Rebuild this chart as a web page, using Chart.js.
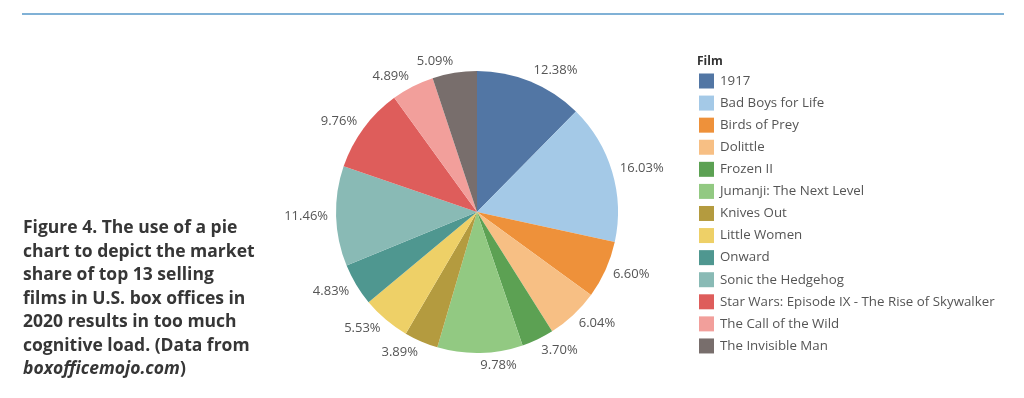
<!DOCTYPE html>
<html>
<head>
<meta charset="utf-8">
<title>Top 13 films of 2020 - box office share</title>
<script src="https://cdn.jsdelivr.net/npm/chart.js"></script>
<style>
    body { margin: 0; background: #fff; }
    #wrap { position: relative; width: 1024px; height: 398px; overflow: hidden; }
    #rule { position: absolute; left: 22px; top: 13px; width: 982px; height: 2px; background: #80b1d6; }
    #filmChart { position: absolute; left: 0; top: 0; }
    #caption {
        position: absolute; left: 23px; top: 215px; width: 270px;
        font: bold 17.5px/23.5px "Open Sans", sans-serif; color: #363636;
    }
</style>
</head>
<body>
<div id="wrap">
    <div id="rule"></div>
    <canvas id="filmChart" width="1024" height="398"></canvas>
    <div id="caption">
        Figure 4. The use of a pie<br>
        chart to depict the market<br>
        share of top 13 selling<br>
        films in U.S. box offices in<br>
        2020 results in too much<br>
        cognitive load. (Data from<br>
        <i>boxofficemojo.com</i>)
    </div>
</div>
<script>
    // Data (share of box office, %) - clockwise from 12 o'clock
    const films = [
        '1917', 'Bad Boys for Life', 'Birds of Prey', 'Dolittle', 'Frozen II',
        'Jumanji: The Next Level', 'Knives Out', 'Little Women', 'Onward',
        'Sonic the Hedgehog', 'Star Wars: Episode IX - The Rise of Skywalker',
        'The Call of the Wild', 'The Invisible Man'
    ];
    const shares = [12.38, 16.03, 6.60, 6.04, 3.70, 9.78, 3.89, 5.53, 4.83, 11.46, 9.76, 4.89, 5.09];
    const filmColors = [
        '#5276a4', '#a4c9e7', '#ee913a', '#f7bf84', '#5ca153', '#92c982', '#b49b3f',
        '#eed067', '#4f9790', '#89bab5', '#de5d5b', '#f29f9b', '#786e6c'
    ];
    const legendTitle = 'Film';

    // Percentage labels outside each slice
    const sliceLabels = {
        id: 'sliceLabels',
        afterDatasetsDraw(chart) {
            const ctx = chart.ctx;
            const meta = chart.getDatasetMeta(0);
            ctx.save();
            ctx.font = '13px "Open Sans"';
            ctx.fillStyle = '#555';
            ctx.textBaseline = 'middle';
            meta.data.forEach((arc, i) => {
                const p = arc.getProps(['x', 'y', 'startAngle', 'endAngle', 'outerRadius']);
                const mid = (p.startAngle + p.endAngle) / 2;
                const r = p.outerRadius + 8;
                const x = p.x + Math.cos(mid) * r;
                const y = p.y + Math.sin(mid) * (r + 4);
                ctx.textAlign = Math.cos(mid) >= 0 ? 'left' : 'right';
                ctx.fillText(shares[i].toFixed(2) + '%', x, y);
            });
            ctx.restore();
        }
    };

    // Legend on the right, Tableau style
    const filmLegend = {
        id: 'filmLegend',
        afterDraw(chart) {
            const ctx = chart.ctx;
            const colors = chart.data.datasets[0].backgroundColor;
            ctx.save();
            ctx.textBaseline = 'middle';
            ctx.textAlign = 'left';
            ctx.font = 'bold 12px "Open Sans"';
            ctx.fillStyle = '#333';
            ctx.fillText(legendTitle, 697, 62);
            ctx.font = '13.3px "Open Sans"';
            chart.data.labels.forEach((label, i) => {
                const y = 81 + i * 22.08;
                ctx.fillStyle = colors[i];
                ctx.fillRect(699, y - 7.5, 15, 15);
                ctx.fillStyle = '#555';
                ctx.fillText(label, 720, y);
            });
            ctx.restore();
        }
    };

    const chart = new Chart(document.getElementById('filmChart'), {
        type: 'pie',
        data: {
            labels: films,
            datasets: [{
                data: shares,
                backgroundColor: filmColors,
                borderWidth: 0,
                hoverOffset: 0
            }]
        },
        options: {
            responsive: false,
            animation: false,
            layout: { padding: { left: 336, right: 406, top: 71, bottom: 45 } },
            plugins: {
                legend: { display: false },
                tooltip: { enabled: false }
            }
        },
        plugins: [sliceLabels, filmLegend]
    });
</script>
</body>
</html>
